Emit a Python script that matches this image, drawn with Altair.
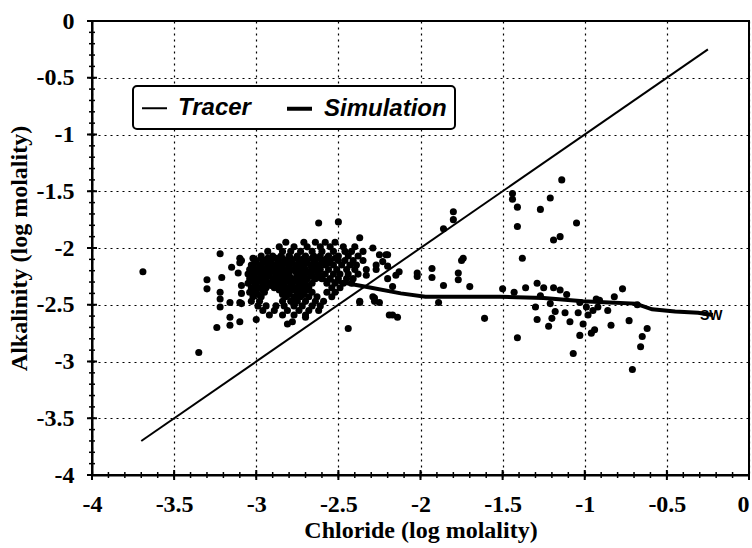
import altair as alt
import pandas as pd

# ---------------- data ----------------
series_names = ["Tracer", "Simulation"]

tracer_x = [-3.70, -0.25]
tracer_y = [-3.70, -0.25]

sim_x = [-2.63, -2.49, -2.30, -2.12, -1.97, -1.80, -1.52, -1.25, -1.01, -0.85, -0.69, -0.59, -0.45, -0.31, -0.22]
sim_y = [-2.27, -2.30, -2.35, -2.40, -2.43, -2.43, -2.43, -2.44, -2.47, -2.48, -2.49, -2.54, -2.56, -2.57, -2.59]

sw_label = ["SW"]
sw_x = [-0.23]
sw_y = [-2.60]

# scattered samples outside the dense cloud
out_pts = [
    (-3.69, -2.21), (-3.35, -2.92),
    (-3.22, -2.05), (-3.10, -2.09), (-3.10, -2.13), (-3.15, -2.17), (-3.09, -2.11), (-3.11, -2.22), (-3.21, -2.26),
    (-2.62, -1.78), (-2.50, -1.77), (-2.37, -1.91),
    (-3.30, -2.28), (-3.30, -2.36), (-3.22, -2.39), (-3.22, -2.45), (-3.22, -2.52), (-3.16, -2.48), (-3.10, -2.48),
    (-3.24, -2.70), (-3.16, -2.61), (-3.16, -2.68), (-3.10, -2.65), (-3.00, -2.63), (-2.81, -2.67), (-2.78, -2.65),
    (-2.70, -2.61), (-2.44, -2.71), (-2.37, -2.47), (-2.29, -2.43), (-3.09, -2.33), (-3.09, -2.40), (-3.09, -2.49),
    (-2.25, -2.06), (-2.27, -2.15), (-2.33, -2.24), (-2.37, -2.48), (-2.25, -2.48), (-2.19, -2.59),
    (-2.21, -2.06), (-2.23, -2.12), (-2.13, -2.21), (-2.15, -2.24), (-2.20, -2.27), (-2.17, -2.34),
    (-2.02, -2.22), (-2.02, -2.25), (-1.93, -2.18), (-1.93, -2.26), (-1.86, -2.33), (-1.77, -2.22), (-1.77, -2.28),
    (-1.75, -2.11), (-1.70, -2.34), (-1.89, -2.48), (-2.17, -2.59), (-2.14, -2.61), (-1.61, -2.62),
    (-1.50, -2.36), (-1.43, -2.39), (-1.41, -2.79), (-1.36, -2.35), (-1.29, -2.31), (-1.25, -2.35), (-1.27, -2.42),
    (-1.30, -2.52), (-1.29, -2.63), (-1.22, -2.69), (-1.21, -2.49), (-1.20, -2.62), (-1.19, -2.35), (-1.18, -2.56),
    (-1.15, -2.37), (-1.12, -2.57), (-1.11, -2.41), (-1.09, -2.65), (-1.07, -2.93), (-1.03, -2.48), (-1.04, -2.57),
    (-1.03, -2.77), (-1.01, -2.67), (-0.99, -2.52), (-0.98, -2.59), (-0.96, -2.75), (-0.94, -2.72), (-0.95, -2.55),
    (-0.93, -2.45), (-0.91, -2.46), (-0.92, -2.52), (-0.86, -2.55), (-0.84, -2.68), (-0.82, -2.43), (-0.77, -2.36),
    (-0.73, -2.64), (-0.71, -3.07), (-0.68, -2.50), (-0.66, -2.87), (-0.65, -2.78), (-0.62, -2.71),
    (-1.14, -1.40), (-1.44, -1.52), (-1.44, -1.57), (-1.41, -1.64), (-1.21, -1.56), (-1.27, -1.66), (-1.41, -1.81),
    (-1.05, -1.78), (-1.19, -1.93), (-1.15, -1.90), (-1.38, -2.09),
    (-1.80, -1.68), (-1.80, -1.75), (-1.86, -1.83), (-1.74, -2.09), (-2.29, -2.00), (-2.20, -2.06),
    (-2.28, -2.44), (-2.28, -2.47), (-2.20, -2.16), (-2.27, -2.19),
]

# dense cloud, read row by row (alkalinity: chloride values)
cloud_rows = [
    (-1.95, [-2.82, -2.71, -2.64, -2.58, -2.52]),
    (-1.99, [-2.86, -2.77, -2.69, -2.61, -2.55, -2.47, -2.40]),
    (-2.03, [-2.93, -2.84, -2.79, -2.73, -2.66, -2.60, -2.53, -2.46, -2.42, -2.35]),
    (-2.07, [-2.97, -2.90, -2.85, -2.80, -2.75, -2.70, -2.65, -2.61, -2.56, -2.50, -2.44, -2.38]),
    (-2.09, [-3.02, -2.97, -2.93, -2.88, -2.84, -2.79, -2.75, -2.71, -2.66, -2.62, -2.57, -2.52]),
    (-2.11, [-3.00, -2.95, -2.91, -2.86, -2.82, -2.78, -2.73, -2.69, -2.64, -2.59, -2.55, -2.50, -2.46, -2.41, -2.35]),
    (-2.13, [-3.01, -2.96, -2.92, -2.87, -2.83, -2.79, -2.74, -2.70, -2.65, -2.60, -2.56]),
    (-2.15, [-3.03, -2.98, -2.93, -2.89, -2.85, -2.80, -2.76, -2.72, -2.67, -2.63, -2.58, -2.53, -2.48, -2.43, -2.39]),
    (-2.17, [-3.02, -2.97, -2.93, -2.88, -2.84, -2.80, -2.75, -2.71, -2.66, -2.62]),
    (-2.19, [-3.04, -3.00, -2.95, -2.91, -2.87, -2.83, -2.78, -2.74, -2.70, -2.65, -2.61, -2.56, -2.51, -2.45, -2.40, -2.33]),
    (-2.21, [-3.03, -2.98, -2.94, -2.89, -2.85, -2.81, -2.76, -2.72, -2.68, -2.63]),
    (-2.23, [-3.05, -3.01, -2.96, -2.92, -2.88, -2.84, -2.80, -2.75, -2.71, -2.67, -2.62, -2.58, -2.53, -2.49, -2.44, -2.38]),
    (-2.25, [-3.02, -2.97, -2.93, -2.88, -2.84, -2.80, -2.75, -2.71, -2.66]),
    (-2.27, [-3.04, -2.99, -2.95, -2.90, -2.86, -2.82, -2.78, -2.73, -2.69, -2.64, -2.60, -2.55, -2.50, -2.45, -2.41]),
    (-2.29, [-3.02, -2.98, -2.94, -2.89, -2.85, -2.81, -2.76, -2.72]),
    (-2.31, [-3.05, -3.00, -2.96, -2.92, -2.87, -2.83, -2.79, -2.74, -2.70, -2.66, -2.57, -2.52, -2.47, -2.42]),
    (-2.33, [-3.01, -2.96, -2.91, -2.87, -2.83, -2.78, -2.74, -2.70]),
    (-2.35, [-3.03, -2.98, -2.94, -2.89, -2.85, -2.81, -2.76, -2.72, -2.68, -2.54, -2.49]),
    (-2.37, [-3.01, -2.96, -2.86, -2.82, -2.78, -2.73, -2.69]),
    (-2.39, [-3.04, -3.00, -2.95, -2.84, -2.80, -2.75, -2.71, -2.66, -2.57, -2.52]),
    (-2.41, [-2.99, -2.84, -2.80, -2.75, -2.71]),
    (-2.43, [-3.02, -2.97, -2.82, -2.77, -2.73, -2.68, -2.63, -2.54]),
    (-2.47, [-3.03, -2.98, -2.84, -2.79, -2.75, -2.70, -2.64, -2.59]),
    (-2.51, [-2.99, -2.94, -2.88, -2.83, -2.77, -2.72, -2.66, -2.61]),
    (-2.55, [-2.96, -2.89, -2.81, -2.74, -2.68, -2.62]),
    (-2.59, [-2.92, -2.84, -2.77, -2.70]),
]

major_ticks = [-4, -3.5, -3, -2.5, -2, -1.5, -1, -0.5, 0]
minor_ticks = [round(-4 + 0.1 * i, 1) for i in range(41)]

# ---------------- tables ----------------
pts_x = [p[0] for p in out_pts] + [x for y, xs in cloud_rows for x in xs]
pts_y = [p[1] for p in out_pts] + [y for y, xs in cloud_rows for x in xs]
df_pts = pd.DataFrame({"x": pts_x, "y": pts_y})

df_lines = pd.DataFrame({
    "x": tracer_x + sim_x,
    "y": tracer_y + sim_y,
    "series": ["Tracer"] * len(tracer_x) + ["Simulation"] * len(sim_x),
})
df_sw = pd.DataFrame({"x": sw_x, "y": sw_y, "t": sw_label})
df_minor = pd.DataFrame({"x": minor_ticks, "y": minor_ticks})
df_major = pd.DataFrame({"x": major_ticks, "y": major_ticks})

W, H = 657, 454
xs = alt.Scale(domain=[-4, 0], nice=False, zero=False)
ys = alt.Scale(domain=[-4, 0], nice=False, zero=False)

axis_common = dict(
    values=major_ticks, grid=True, gridColor="#000", gridDash=[2, 4], gridWidth=1.2,
    domainColor="#000", domainWidth=2, ticks=False, labelFlush=False, labelOverlap=False,
    labelFont="Liberation Serif", labelFontSize=24, labelFontWeight="bold", labelColor="#000",
    titleFont="Liberation Serif", titleFontSize=24, titleFontWeight="bold", titleColor="#000",
    labelExpr="'' + datum.value",
)
x_axis = alt.Axis(
    labelPadding=17, titlePadding=2,
    labelAlign={"expr": "datum.value == 0 ? 'right' : 'center'"},
    **axis_common,
)
y_axis = alt.Axis(labelPadding=18, titlePadding=5, **axis_common)

points = alt.Chart(df_pts).mark_circle(size=50, color="black", opacity=1).encode(
    x=alt.X("x:Q", scale=xs, axis=x_axis, title="Chloride (log molality)"),
    y=alt.Y("y:Q", scale=ys, axis=y_axis, title="Alkalinity (log molality)"),
)

legend = alt.Legend(
    title=None, orient="none", legendX=41, legendY=65, direction="horizontal",
    symbolType="stroke", symbolSize=625, labelFont="Liberation Sans", labelFontSize=24,
    labelFontStyle="italic", labelFontWeight="bold", labelColor="#000",
    strokeColor="#000", fillColor="white", padding=8, cornerRadius=4,
    columnPadding=28, labelOffset=10,
)

lines = alt.Chart(df_lines).mark_line().encode(
    x=alt.X("x:Q", scale=xs),
    y=alt.Y("y:Q", scale=ys),
    color=alt.Color("series:N", scale=alt.Scale(domain=series_names, range=["black", "black"]), legend=legend),
    strokeWidth=alt.StrokeWidth("series:N", scale=alt.Scale(domain=series_names, range=[2, 4]), legend=legend),
)

sw = alt.Chart(df_sw).mark_text(
    font="Liberation Sans", fontSize=14, fontWeight="bold", color="black",
    align="center", baseline="middle",
).encode(x=alt.X("x:Q", scale=xs), y=alt.Y("y:Q", scale=ys), text="t:N")

xt_minor = alt.Chart(df_minor).mark_rule(color="black", strokeWidth=1.5).encode(
    x=alt.X("x:Q", scale=xs), y=alt.value(H - 3), y2=alt.value(H + 3))
xt_major = alt.Chart(df_major).mark_rule(color="black", strokeWidth=2).encode(
    x=alt.X("x:Q", scale=xs), y=alt.value(H - 5), y2=alt.value(H + 5))
yt_minor = alt.Chart(df_minor).mark_rule(color="black", strokeWidth=1.5).encode(
    y=alt.Y("y:Q", scale=ys), x=alt.value(-3), x2=alt.value(3))
yt_major = alt.Chart(df_major).mark_rule(color="black", strokeWidth=2).encode(
    y=alt.Y("y:Q", scale=ys), x=alt.value(-5), x2=alt.value(5))

chart = alt.layer(points, lines, sw, xt_minor, xt_major, yt_minor, yt_major).properties(
    width=W, height=H,
    autosize=alt.AutoSizeParams(type="none"),
    padding={"left": 92, "top": 21, "right": 3, "bottom": 73},
).configure_view(stroke="black", strokeWidth=2).configure_legend(strokeWidth=2)

chart.save("out.html", embed_options={"renderer": "svg", "actions": False})
